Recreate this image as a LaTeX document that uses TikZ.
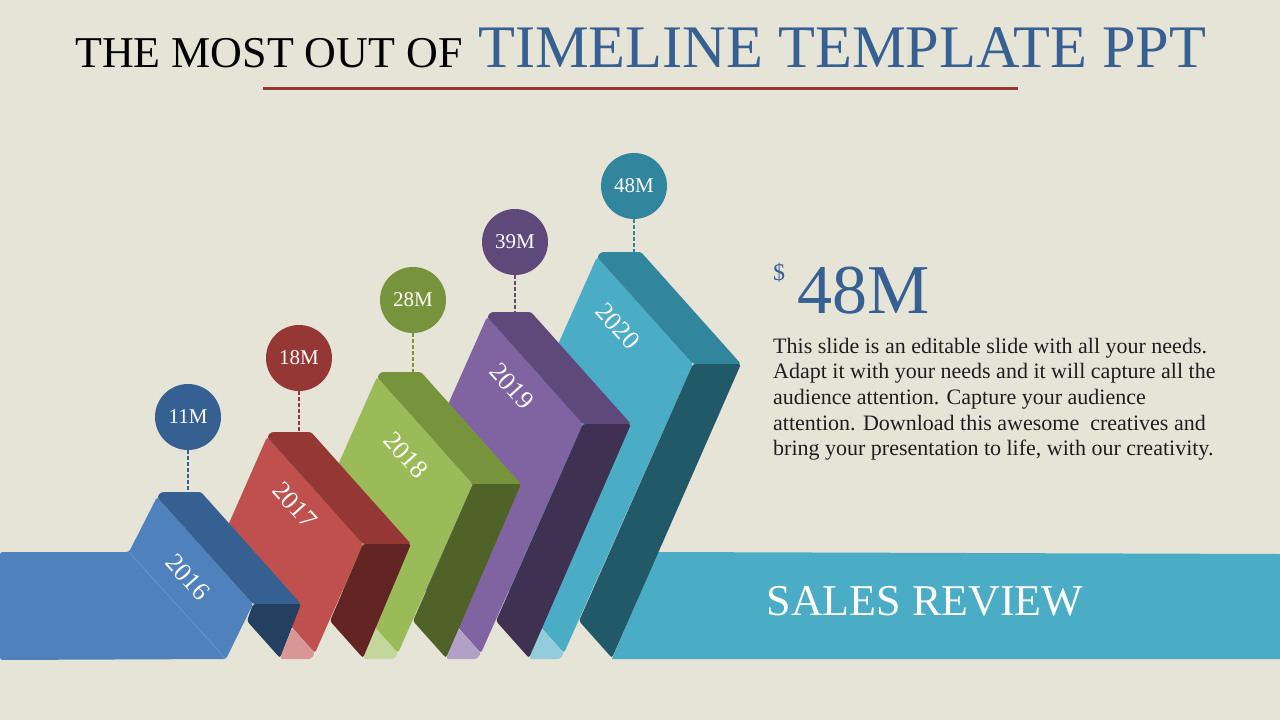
\documentclass[tikz,border=0pt]{standalone}
\usepackage{fontspec}
\setmainfont{Liberation Serif}
\definecolor{bg}{RGB}{230,227,215}
\definecolor{tblue}{RGB}{54,96,146}
\definecolor{lred}{RGB}{149,55,53}
\definecolor{ptext}{RGB}{30,30,30}
% blue
\definecolor{bF}{RGB}{79,129,189}\definecolor{bT}{RGB}{54,96,146}\definecolor{bD}{RGB}{36,63,96}\definecolor{bL}{RGB}{110,152,204}
% red
\definecolor{rF}{RGB}{192,80,77}\definecolor{rT}{RGB}{149,55,53}\definecolor{rD}{RGB}{99,37,35}\definecolor{rL}{RGB}{217,150,148}
% green
\definecolor{gF}{RGB}{155,187,89}\definecolor{gT}{RGB}{119,147,60}\definecolor{gD}{RGB}{79,98,40}\definecolor{gL}{RGB}{195,214,155}
% purple
\definecolor{pF}{RGB}{128,100,162}\definecolor{pT}{RGB}{95,73,122}\definecolor{pD}{RGB}{63,49,81}\definecolor{pL}{RGB}{178,161,199}
% teal
\definecolor{cF}{RGB}{75,172,198}\definecolor{cT}{RGB}{49,133,156}\definecolor{cD}{RGB}{33,89,104}\definecolor{cL}{RGB}{147,205,221}
\tikzset{
  face/.style={rounded corners=2.5pt},
  yearlbl/.style={text=white,inner sep=0,rotate=-48,font=\fontsize{26}{30}\selectfont},
  valcirc/.style={circle,inner sep=0,minimum size=66pt,text=white,font=\fontsize{21}{24}\selectfont},
  dashconn/.style={line width=1.5pt,dash pattern=on 4pt off 2pt},
  plain/.style={inner sep=0,anchor=base west},
  para/.style={plain,text=ptext,font=\fontsize{22}{26}\selectfont}
}
\begin{document}
\begin{tikzpicture}[x=1pt,y=-1pt]
\fill[bg] (0,0) rectangle (1280,720);
\useasboundingbox (0,0) rectangle (1280,720);

% title
\node[plain,font=\fontsize{44}{54}\selectfont,text=black] (title1) at (75,67) {THE MOST OUT OF};
\node[plain,font=\fontsize{60.4}{72}\selectfont,text=tblue] (title2) at (478,67) {TIMELINE TEMPLATE PPT};
\coordinate (ulA) at (263,88);
\coordinate (ulB) at (1018,88);
\draw[line width=3pt,lred] (ulA) -- (ulB);

% sales review band
\fill[cF] (658,552) -- (1280,554) -- (1280,659) -- (612,659) -- cycle;

% block 5 (teal)
\fill[cF,face] (597,257) -- (693,364) -- (564,653) -- (468,546) -- cycle;
\fill[cL,face] (541,628) -- (564,653) -- (560,659) -- (529,659) -- cycle;
\fill[cT,face] (597,257) -- (601,252) -- (641,252) -- (741,364) -- (693,364) -- cycle;
\fill[cD,face] (693,364) -- (741,364) -- (612,658) -- (579,621) -- cycle;

% block 4 (purple)
\fill[pF,face] (487,317) -- (583,424) -- (481,653) -- (385,546) -- cycle;
\fill[pL,face] (458,628) -- (481,653) -- (477,659) -- (446,659) -- cycle;
\fill[pT,face] (487,317) -- (491,312) -- (531,312) -- (631,424) -- (583,424) -- cycle;
\fill[pD,face] (583,424) -- (631,424) -- (529,658) -- (496,621) -- cycle;

% block 3 (green)
\fill[gF,face] (377,377) -- (473,484) -- (398,653) -- (302,546) -- cycle;
\fill[gL,face] (375,628) -- (398,653) -- (394,659) -- (363,659) -- cycle;
\fill[gT,face] (377,377) -- (381,372) -- (421,372) -- (521,484) -- (473,484) -- cycle;
\fill[gD,face] (473,484) -- (521,484) -- (446,658) -- (413,621) -- cycle;

% block 2 (red)
\fill[rF,face] (267,437) -- (363,544) -- (315,653) -- (219,546) -- cycle;
\fill[rL,face] (292,628) -- (315,653) -- (311,659) -- (280,659) -- cycle;
\fill[rT,face] (267,437) -- (271,432) -- (311,432) -- (411,544) -- (363,544) -- cycle;
\fill[rD,face] (363,544) -- (411,544) -- (363,658) -- (330,621) -- cycle;

% block 1 (blue) with left band
\fill[bF,face] (0,552) -- (129,552) -- (157,497) -- (253,604) -- (226,659) -- (0,660) -- cycle;
\draw[bL,line width=0.6pt] (129,552) -- (225,658);
\fill[bT,face] (157,497) -- (161,492) -- (201,492) -- (301,604) -- (253,604) -- cycle;
\fill[bD,face] (253,604) -- (301,604) -- (280,658) -- (247,621) -- cycle;

% year labels
\node[yearlbl] (y1) at (188,577) {2016};
\node[yearlbl] (y2) at (295,505) {2017};
\node[yearlbl] (y3) at (406,455) {2018};
\node[yearlbl] (y4) at (512,386) {2019};
\node[yearlbl] (y5) at (618,326) {2020};

% value circles
\node[valcirc,fill=bT] (c1) at (188,417) {11M};
\node[valcirc,fill=rT] (c2) at (299,358) {18M};
\node[valcirc,fill=gT] (c3) at (413,300) {28M};
\node[valcirc,fill=pT] (c4) at (515,242) {39M};
\node[valcirc,fill=cT] (c5) at (634,186) {48M};
\coordinate (k1) at (188,493);
\coordinate (k2) at (299,433);
\coordinate (k3) at (413,373);
\coordinate (k4) at (515,313);
\coordinate (k5) at (634,253);
\draw[dashconn,bT] (c1.south) -- (k1);
\draw[dashconn,rT] (c2.south) -- (k2);
\draw[dashconn,gT] (c3.south) -- (k3);
\draw[dashconn,pT] (c4.south) -- (k4);
\draw[dashconn,cT] (c5.south) -- (k5);

% right text
\node[plain,text=tblue,font=\fontsize{24}{28}\selectfont] (dollar) at (773,280) {\$};
\node[plain,text=tblue,font=\fontsize{70}{80}\selectfont] (big) at (797,313) {48M};
\node[para] (p1) at (773,353) {This slide is an editable slide with all your needs.};
\node[para] (p2) at (773,378) {Adapt it with your needs and it will capture all the};
\node[para] (p3) at (773,404) {audience attention. Capture your audience};
\node[para] (p4) at (773,430) {attention. Download this awesome\ \ creatives and};
\node[para] (p5) at (773,455) {bring your presentation to life, with our creativity.};

% band label
\node[inner sep=0,anchor=base,text=white,font=\fontsize{44}{50}\selectfont] (sales) at (925,615) {SALES REVIEW};
\end{tikzpicture}
\end{document}
